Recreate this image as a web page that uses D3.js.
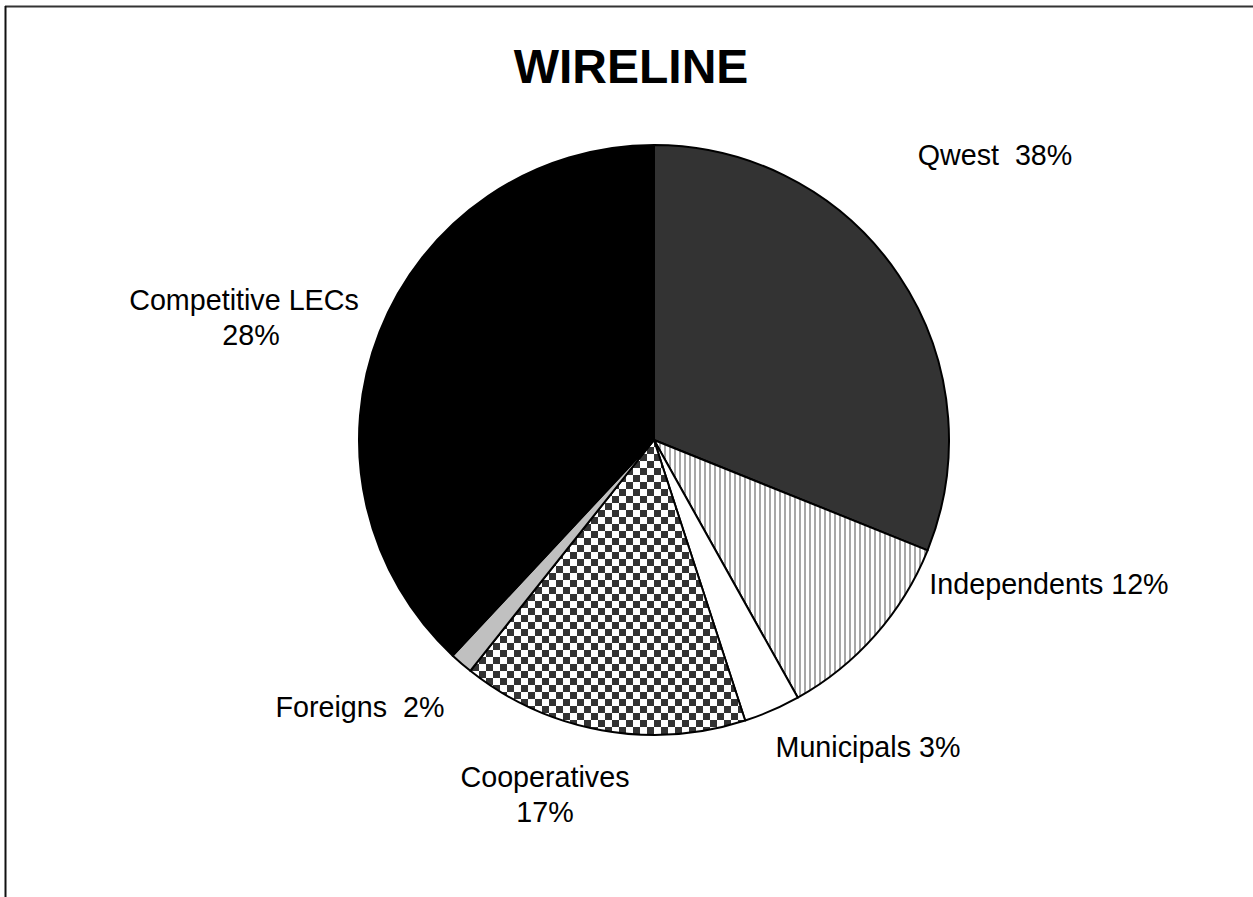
<!DOCTYPE html>
<html>
<head>
<meta charset="utf-8">
<script src="https://cdn.jsdelivr.net/npm/d3@7"></script>
<style>
  body { margin: 0; background: #fff; }
  text { font-family: "Liberation Sans", Arial, sans-serif; white-space: pre; }
</style>
</head>
<body>
<div id="chart"></div>
<script>
// slices, clockwise from 12 o'clock (share of the circle as drawn)
const names = ["Qwest", "Independents", "Municipals", "Cooperatives", "Foreigns", "Competitive LECs"];
const shares = [31.1, 10.8, 3.1, 15.7, 1.25, 38.05];
// label text as printed
const labelLines = [
    ["Qwest  38%"],
    ["Independents 12%"],
    ["Municipals 3%"],
    ["Cooperatives", "17%"],
    ["Foreigns  2%"],
    ["Competitive LECs", "28%"]
];

const W = 1253, H = 897;
const cx = 654, cy = 440, r = 295;

const svg = d3.select("#chart")
    .append("svg")
    .attr("width", W)
    .attr("height", H);

// fill patterns
const defs = svg.append("defs");

const checker = defs.append("pattern")
    .attr("id", "checker")
    .attr("patternUnits", "userSpaceOnUse")
    .attr("width", 14).attr("height", 14);
checker.append("rect").attr("width", 14).attr("height", 14).attr("fill", "#fff");
checker.append("rect").attr("width", 7).attr("height", 7).attr("fill", "#333");
checker.append("rect").attr("x", 7).attr("y", 7).attr("width", 7).attr("height", 7).attr("fill", "#333");

const stripes = defs.append("pattern")
    .attr("id", "stripes")
    .attr("patternUnits", "userSpaceOnUse")
    .attr("width", 5).attr("height", 5);
stripes.append("rect").attr("width", 5).attr("height", 5).attr("fill", "#fff");
stripes.append("rect").attr("width", 2).attr("height", 5).attr("fill", "#a8a8a8");

const fills = ["#333333", "url(#stripes)", "#ffffff", "url(#checker)", "#c0c0c0", "#000000"];

// frame (top and left only)
svg.append("line")
    .attr("x1", 5).attr("x2", W).attr("y1", 6.5).attr("y2", 6.5)
    .attr("stroke", "#333").attr("stroke-width", 2);
svg.append("line")
    .attr("x1", 5.5).attr("x2", 5.5).attr("y1", 6).attr("y2", H)
    .attr("stroke", "#111").attr("stroke-width", 2);

svg.append("text")
    .attr("x", 631)
    .attr("y", 83)
    .attr("text-anchor", "middle")
    .style("font-size", "48px")
    .style("font-weight", "bold")
    .text("WIRELINE");

const pie = d3.pie().sort(null).value(d => d);
const arc = d3.arc().innerRadius(0).outerRadius(r);

const g = svg.append("g")
    .attr("transform", `translate(${cx},${cy})`);

g.selectAll("path")
    .data(pie(shares))
    .join("path")
    .attr("d", arc)
    .attr("fill", (d, i) => fills[i])
    .attr("stroke", "#000")
    .attr("stroke-width", 2)
    .attr("stroke-linejoin", "round");

// label anchor points (centre of each text block, page coords)
const labelX = [995, 1049, 868, 545, 360, 244];
const labelY = [165, 594, 757, 787, 717, 310];

labelLines.forEach((lines, i) => {
    lines.forEach((t, j) => {
        svg.append("text")
            .attr("x", labelX[i] + (i === 5 && j === 1 ? 7 : 0))
            .attr("y", labelY[i] + j * 35)
            .attr("text-anchor", "middle")
            .style("font-size", "28.7px")
            .text(t);
    });
});
</script>
</body>
</html>
